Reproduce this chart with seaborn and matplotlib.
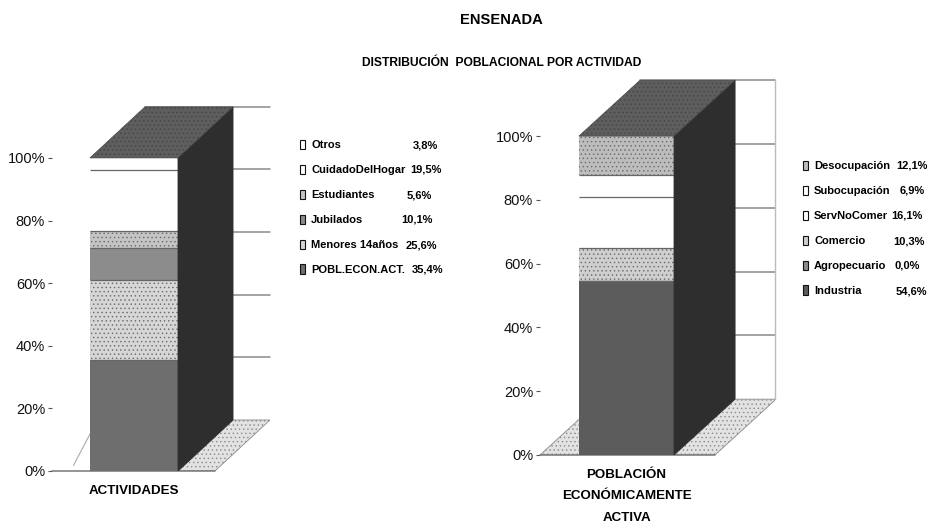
import numpy as np
import pandas as pd
import matplotlib
matplotlib.use("Agg")
import matplotlib.pyplot as plt
import seaborn as sns

# ---------- data ----------
act_names = ["Otros", "CuidadoDelHogar", "Estudiantes", "Jubilados", "Menores 14años", "POBL.ECON.ACT."]
act_values = [3.8, 19.5, 5.6, 10.1, 25.6, 35.4]
act_labels = ["3,8%", "19,5%", "5,6%", "10,1%", "25,6%", "35,4%"]

pea_names = ["Desocupación", "Subocupación", "ServNoComer", "Comercio", "Agropecuario", "Industria"]
pea_values = [12.1, 6.9, 16.1, 10.3, 0.0, 54.6]
pea_labels = ["12,1%", "6,9%", "16,1%", "10,3%", "0,0%", "54,6%"]

tick_values = [0, 20, 40, 60, 80, 100]
tick_labels = ["0%", "20%", "40%", "60%", "80%", "100%"]

# ---------- style ----------
W, H = 929, 526
BAR_WIDTH = 0.8
act_colors = ["#ffffff", "#ffffff", "#c4c4c4", "#8c8c8c", "#d6d6d6", "#6e6e6e"]
act_hatch = [None, None, "....", None, "....", None]
pea_colors = ["#bdbdbd", "#ffffff", "#ffffff", "#cfcfcf", "#8c8c8c", "#5c5c5c"]
pea_hatch = ["....", None, None, "....", None, None]

sns.set_theme(style="white")
plt.rcParams["font.family"] = ["Liberation Sans", "DejaVu Sans"]
plt.rcParams["hatch.linewidth"] = 0.5


def px_axes(fig, left, right, bottom, top):
    return fig.add_axes([left / W, 1 - bottom / H, (right - left) / W, (bottom - top) / H])


def draw_panel(ax, group, names, values, colors, hatches, xlim, ylim_top, dx, dy, floor_right, full_floor):
    # stacked bar: the largest cumulative is drawn first, the rest on top of it
    cum = np.cumsum(values[::-1])[::-1]
    df = pd.DataFrame({"grupo": group, "actividad": names, "acum": cum})

    half = BAR_WIDTH / 2
    # back wall and its gridlines
    for v in tick_values[1:]:
        x0 = -half + dx if v == 100 else half + dx
        ax.plot([x0, xlim[1]], [v + dy, v + dy], color="#8a8a8a", lw=1.1, clip_on=False, zorder=1)

    # floor
    floor_left = half if not full_floor else xlim[0]
    ax.fill([floor_left, floor_right, floor_right + dx, floor_left + dx], [0, 0, dy, dy],
            facecolor="#e2e2e2", edgecolor="#8a8a8a", hatch="....", lw=0.6, zorder=1)
    if not full_floor:
        ax.plot([-half - 0.15, -half], [dy * 0.6 - 8, dy * 0.6 + 2], color="#aaaaaa", lw=0.8, zorder=1)
    ax.plot([xlim[0], floor_right], [0, 0], color="#777777", lw=1.1, clip_on=False, zorder=2)

    sns.barplot(data=df, x="grupo", y="acum", hue="actividad", hue_order=names, dodge=False,
                palette=colors, saturation=1, width=BAR_WIDTH, errorbar=None, ax=ax, zorder=3)
    for cont, hatch in zip(ax.containers, hatches):
        for bar in cont:
            bar.set_edgecolor("#6a6a6a")
            bar.set_linewidth(0)
            if hatch:
                bar.set_hatch(hatch)
    # only the joins between segments carry a line, the white parts have no sides
    ax.hlines(cum[1:], -half, half, color="#666666", lw=0.9, zorder=3.5)

    # side and top faces of the bar
    ax.fill([half, half + dx, half + dx, half], [0, dy, 100 + dy, 100],
            facecolor="#2e2e2e", edgecolor="#2e2e2e", lw=0.6, zorder=4)
    ax.fill([-half, half, half + dx, -half + dx], [100, 100, 100 + dy, 100 + dy],
            facecolor="#5e5e5e", edgecolor="#444444", hatch="....", lw=0.5, zorder=4, clip_on=False)

    ax.set_xlim(*xlim)
    ax.set_ylim(0, ylim_top)
    ax.set_yticks(tick_values, tick_labels)
    ax.tick_params(axis="y", left=True, length=3, width=0.8, pad=2, labelsize=10.5, color="#555555", labelcolor="#111111")
    ax.tick_params(axis="x", bottom=False, pad=4, labelsize=9.6, labelcolor="#000000")
    for lab in ax.get_xticklabels():
        lab.set_fontweight("bold")
        lab.set_linespacing(2.05)
    ax.set_xlabel("")
    ax.set_ylabel("")
    ax.patch.set_visible(False)
    sns.despine(ax=ax, left=True, bottom=True, top=True, right=True)


def draw_legend(fig, ax, labels, leg_x, leg_y, value_right):
    sns.move_legend(ax, "upper left", bbox_to_anchor=(leg_x / W, 1 - leg_y / H),
                    bbox_transform=fig.transFigure, frameon=False, title=None,
                    fontsize=8, borderpad=0, borderaxespad=0, handlelength=0.45,
                    handleheight=0.9, handletextpad=0.55, labelspacing=1.3)
    leg = ax.get_legend()
    for text in leg.get_texts():
        text.set_fontweight("bold")
        text.set_color("#000000")
    for patch in leg.get_patches():
        patch.set_edgecolor("#111111")
        patch.set_linewidth(0.8)
    for i, (lab, xr) in enumerate(zip(labels, value_right)):
        fig.text(xr / W, 1 - (leg_y + 5 + 25 * i) / H, lab, ha="right", va="center",
                 fontsize=8, fontweight="bold", color="#000000")


fig = plt.figure(figsize=(W / 100, H / 100), dpi=100, facecolor="white")

ax1 = px_axes(fig, 52, 270, 471, 105)
draw_panel(ax1, "ACTIVIDADES", act_names, act_values, act_colors, act_hatch,
           (-0.745, 1.236), 116.9, 0.5, 16.3, 0.736, False)
draw_legend(fig, ax1, act_labels, 300, 140, [438, 442, 432, 433, 437, 443])

ax2 = px_axes(fig, 540, 775, 455, 78)
draw_panel(ax2, "POBLACIÓN\nECONÓMICAMENTE\nACTIVA", pea_names, pea_values, pea_colors, pea_hatch,
           (-0.728, 1.25), 118.2, 0.514, 17.5, 0.745, True)
ax2.plot([1.25, 1.25], [17.5, 117.5], color="#bbbbbb", lw=1, clip_on=False, zorder=1)
draw_legend(fig, ax2, pea_labels, 803, 161, [928, 925, 923, 925, 920, 927])

fig.text(501 / W, 1 - 20 / H, "ENSENADA", ha="center", va="center", fontsize=10.6, fontweight="bold", color="#000000")
fig.text(502 / W, 1 - 63 / H, "DISTRIBUCIÓN  POBLACIONAL POR ACTIVIDAD", ha="center", va="center",
         fontsize=8.7, fontweight="bold", color="#000000")

fig.savefig("out.png", dpi=100)
plt.close(fig)
